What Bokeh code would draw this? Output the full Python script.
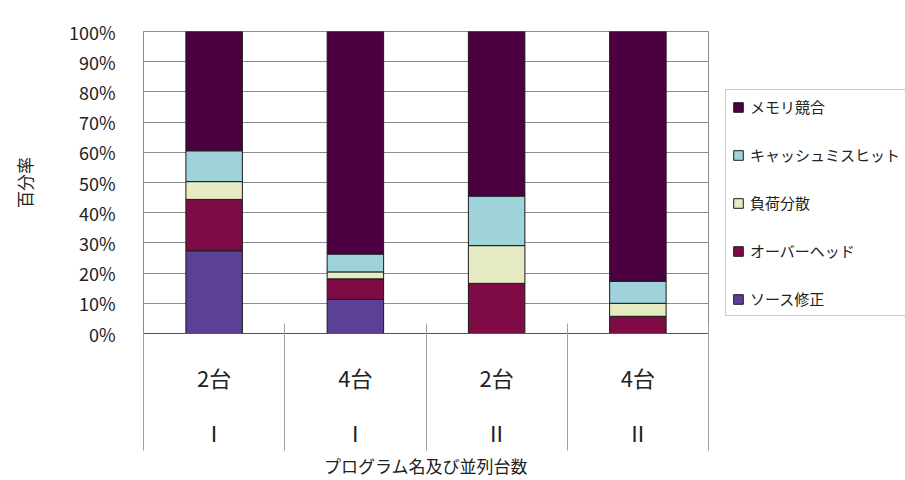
from bokeh.plotting import figure
from bokeh.models import (FactorRange, Range1d, LinearAxis, FixedTicker, SingleIntervalTicker,
                          NumeralTickFormatter, Legend, LegendItem)
from bokeh.embed import file_html
from bokeh.resources import INLINE

# ---- data (percent of total) ----
counts = ["2台", "4台", "2台", "4台"]
programs = ["Ⅰ", "Ⅰ", "Ⅱ", "Ⅱ"]
series_names = ["ソース修正", "オーバーヘッド", "負荷分散", "キャッシュミスヒット", "メモリ競合"]
source_fix = [27.4, 11.3, 0.0, 0.0]
overhead = [17.0, 6.8, 16.6, 5.7]
load_balance = [5.9, 2.3, 12.5, 4.3]
cache_miss = [10.2, 5.9, 16.4, 7.3]
memory_conflict = [39.5, 73.7, 54.5, 82.7]
colors = ["#5C3F96", "#7E0B45", "#E6EBC3", "#9FD3DC", "#4B0042"]
x_title = "プログラム名及び並列台数"
y_title = "百分率"

FONT = "Noto Sans CJK JP"

factors = [f"{c}\n{pg}" for c, pg in zip(counts, programs)]
keys = ["s0", "s1", "s2", "s3", "s4"]
data = {"x": factors}
for k, vals in zip(keys, [source_fix, overhead, load_balance, cache_miss, memory_conflict]):
    data[k] = [v / 100.0 for v in vals]

p = figure(frame_width=565, frame_height=302, output_backend="svg", toolbar_location=None,
           x_range=FactorRange(factors=factors, range_padding=0), y_range=Range1d(0, 1),
           min_border_left=143, min_border_right=0, min_border_top=31, min_border_bottom=0,
           background_fill_color="white", border_fill_color="white")

renderers = p.vbar_stack(keys, x="x", width=0.4, source=data, color=colors,
                         line_color="#1a1a1a", line_width=1)

p.outline_line_color = "#8c8c8c"
p.xgrid.visible = False
p.ygrid.grid_line_color = "#8c8c8c"
p.ygrid.grid_line_width = 1

# y axis
p.yaxis.ticker = SingleIntervalTicker(interval=0.1)
p.yaxis.formatter = NumeralTickFormatter(format="0%")
p.yaxis.major_tick_line_color = None
p.yaxis.minor_tick_line_color = None
p.yaxis.axis_line_color = "#8c8c8c"
p.yaxis.major_label_text_font = FONT
p.yaxis.major_label_text_font_size = "18px"
p.yaxis.major_label_text_color = "#222222"
p.yaxis.major_label_standoff = 22
p.yaxis.axis_label = y_title
p.yaxis.axis_label_text_font = FONT
p.yaxis.axis_label_text_font_size = "17px"
p.yaxis.axis_label_text_font_style = "normal"
p.yaxis.axis_label_text_color = "#222222"
p.yaxis.axis_label_standoff = 29

# x axis: categories (two lines)
p.xaxis.major_tick_line_color = None
p.xaxis.minor_tick_line_color = None
p.xaxis.axis_line_color = "#555555"
p.xaxis.major_label_text_font = FONT
p.xaxis.major_label_text_font_size = "22px"
p.xaxis.major_label_text_color = "#222222"
p.xaxis.major_label_text_line_height = 1.72
p.xaxis.major_label_standoff = 21

# separators between categories (synthetic category boundaries) + axis title
bounds = list(range(len(factors) + 1))
sep_axis = LinearAxis(ticker=FixedTicker(ticks=bounds),
                      axis_line_color=None, major_tick_in=127, major_tick_out=0,
                      major_tick_line_color="#a0a0a0", minor_tick_line_color=None,
                      major_label_text_font_size="0px", major_label_standoff=0,
                      major_label_overrides={i: "" for i in bounds},
                      axis_label=x_title, axis_label_text_font=FONT,
                      axis_label_text_font_size="17px", axis_label_text_font_style="normal",
                      axis_label_text_color="#222222", axis_label_standoff=2)
p.add_layout(sep_axis, "below")

items = [LegendItem(label=name, renderers=[r]) for name, r in zip(series_names, renderers)]
legend = Legend(items=items[::-1], location="bottom_left", orientation="vertical",
                label_text_font=FONT, label_text_font_size="15px", label_text_color="#222222",
                glyph_width=12, glyph_height=12, label_height=20, spacing=27, padding=6,
                margin=17, label_standoff=6, border_line_color="#9a9a9a",
                background_fill_color="white")
p.add_layout(legend, "right")

open("out.html", "w").write(file_html(p, INLINE))
